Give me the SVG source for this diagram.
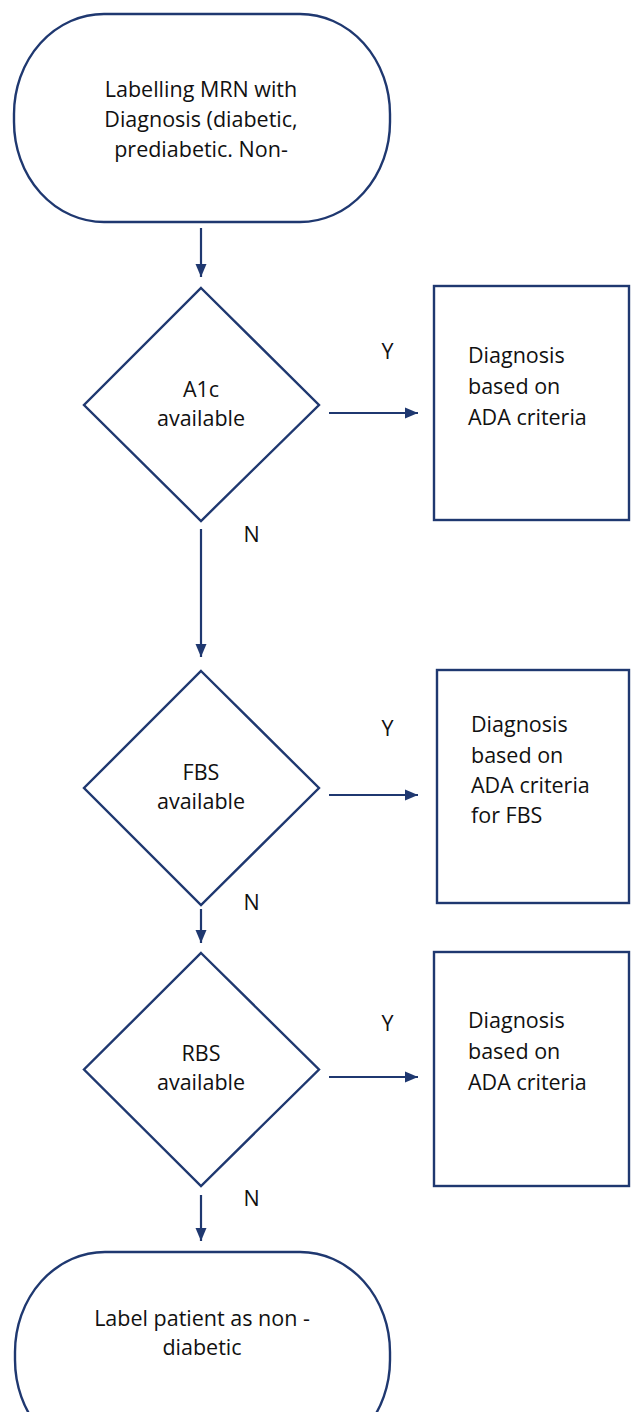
<svg xmlns="http://www.w3.org/2000/svg" width="631" height="1412" viewBox="0 0 631 1412">
  <style>
    .shape { fill: #ffffff; stroke: #1f3870; stroke-width: 2.4; }
    .conn { stroke: #1f3870; stroke-width: 2.2; fill: none; }
    .t { font-family: "Open Sans", "Liberation Sans", sans-serif; font-size: 21.5px; fill: #111111; }
    .c { text-anchor: middle; }
  </style>
  <defs>
    <marker id="arrow" viewBox="0 0 13 12" refX="13" refY="6" markerWidth="13" markerHeight="12" markerUnits="userSpaceOnUse" orient="auto">
      <path d="M0,0.5 L13,6 L0,11.5 Z" fill="#1f3870"/>
    </marker>
  </defs>
  <rect width="631" height="1412" fill="#ffffff"/>

  <g id="start">
    <rect class="shape" x="14" y="14" width="376" height="208" rx="90" ry="100"/>
    <text class="t c" x="201" y="97">Labelling MRN with</text>
    <text class="t c" x="201" y="127">Diagnosis (diabetic,</text>
    <text class="t c" x="201" y="157">prediabetic. Non-</text>
  </g>

  <g id="decision-a1c">
    <polygon class="shape" points="201,288 319,405 201,521 84,405"/>
    <text class="t c" x="201" y="397">A1c</text>
    <text class="t c" x="201" y="426">available</text>
  </g>

  <g id="result-a1c">
    <rect class="shape" x="434" y="286" width="195" height="234"/>
    <text class="t" x="468" y="363">Diagnosis</text>
    <text class="t" x="468" y="394">based on</text>
    <text class="t" x="468" y="425">ADA criteria</text>
  </g>

  <g id="decision-fbs">
    <polygon class="shape" points="201,671 319,788 201,905 84,788"/>
    <text class="t c" x="201" y="780">FBS</text>
    <text class="t c" x="201" y="809">available</text>
  </g>

  <g id="result-fbs">
    <rect class="shape" x="437" y="670" width="192" height="233"/>
    <text class="t" x="471" y="732">Diagnosis</text>
    <text class="t" x="471" y="763">based on</text>
    <text class="t" x="471" y="793">ADA criteria</text>
    <text class="t" x="471" y="823">for FBS</text>
  </g>

  <g id="decision-rbs">
    <polygon class="shape" points="201,953 319,1069.5 201,1186 84,1069.5"/>
    <text class="t c" x="201" y="1061">RBS</text>
    <text class="t c" x="201" y="1090">available</text>
  </g>

  <g id="result-rbs">
    <rect class="shape" x="434" y="952" width="195" height="234"/>
    <text class="t" x="468" y="1028">Diagnosis</text>
    <text class="t" x="468" y="1059">based on</text>
    <text class="t" x="468" y="1090">ADA criteria</text>
  </g>

  <g id="end">
    <rect class="shape" x="15" y="1252" width="375" height="208" rx="90" ry="100"/>
    <text class="t c" x="202" y="1326">Label patient as non -</text>
    <text class="t c" x="202" y="1355">diabetic</text>
  </g>

  <g id="connectors">
    <line class="conn" x1="201" y1="228" x2="201" y2="277" marker-end="url(#arrow)"/>
    <line class="conn" x1="329" y1="413" x2="418" y2="413" marker-end="url(#arrow)"/>
    <line class="conn" x1="201" y1="529" x2="201" y2="657" marker-end="url(#arrow)"/>
    <line class="conn" x1="329" y1="795" x2="418" y2="795" marker-end="url(#arrow)"/>
    <line class="conn" x1="201" y1="909" x2="201" y2="943" marker-end="url(#arrow)"/>
    <line class="conn" x1="329" y1="1077" x2="418" y2="1077" marker-end="url(#arrow)"/>
    <line class="conn" x1="201" y1="1195" x2="201" y2="1241" marker-end="url(#arrow)"/>
    <text class="t c" x="387.5" y="359">Y</text>
    <text class="t c" x="251.5" y="542">N</text>
    <text class="t c" x="387.5" y="736">Y</text>
    <text class="t c" x="251.5" y="910">N</text>
    <text class="t c" x="387.5" y="1031">Y</text>
    <text class="t c" x="251.5" y="1206">N</text>
  </g>
</svg>
